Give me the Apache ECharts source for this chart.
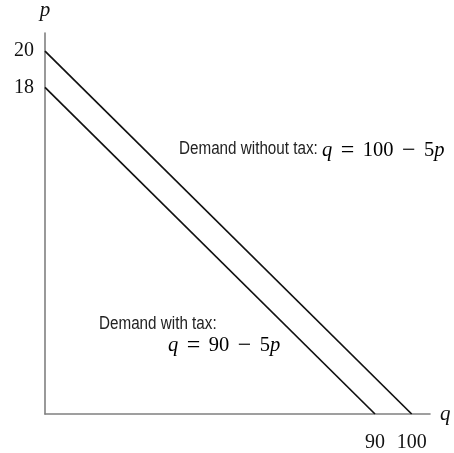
<!DOCTYPE html>
<html>
<head>
<meta charset="utf-8">
<script src="https://cdn.jsdelivr.net/npm/echarts@6/dist/echarts.min.js"></script>
<style>html,body{margin:0;padding:0;background:#fff;}#c{width:454px;height:453px;}</style>
</head>
<body>
<div id="c"></div>
<script>
// Data
const qWithoutTax = [0, 100];
const pWithoutTax = [20, 0];
const qWithTax = [0, 90];
const pWithTax = [18, 0];
const xTickLabels = [90, 100];
const yTickLabels = [18, 20];
const labelWithout = 'Demand without tax:';
const labelWith = 'Demand with tax:';

const serif = '"Liberation Serif", "Times New Roman", serif';
const sans = '"Liberation Sans", Arial, sans-serif';

const chart = echarts.init(document.getElementById('c'), null, {renderer: 'canvas'});
const toPairs = (xs, ys) => xs.map((x, i) => [x, ys[i]]);

const mathRich = {
  i: {fontFamily: serif, fontSize: 20.5, fontStyle: 'italic', color: '#111'},
  n: {fontFamily: serif, fontSize: 20.5, color: '#111'},
  o: {fontFamily: serif, fontSize: 24, color: '#111', padding: [0, 8.5, 0, 8.5]}
};
const sansStyle = (text) => ({text: text, fontFamily: sans, fontSize: 17.5, fill: '#222', verticalAlign: 'middle', align: 'left'});
const mathStyle = (text) => ({text: text, rich: mathRich, verticalAlign: 'middle', align: 'left'});
const eq = (a, b) => '{i|q}{o|=}{n|' + a + '}{o|−}{n|' + b + '}{i|p}';

chart.setOption({
  animation: false,
  grid: {left: 45, right: 24, top: 33, bottom: 35.4, containLabel: false},
  xAxis: {
    type: 'value', min: 0, max: 105,
    name: 'q', nameLocation: 'end', nameGap: 10,
    nameTextStyle: {fontFamily: serif, fontStyle: 'italic', fontSize: 21, color: '#111', verticalAlign: 'middle'},
    axisLine: {show: true, lineStyle: {color: '#808080', width: 1.6}},
    axisTick: {show: false},
    splitLine: {show: false},
    axisLabel: {show: true, customValues: xTickLabels, fontFamily: serif, fontSize: 20, color: '#111', margin: 19}
  },
  yAxis: {
    type: 'value', min: 0, max: 21,
    name: 'p', nameLocation: 'end', nameGap: 12,
    nameTextStyle: {fontFamily: serif, fontStyle: 'italic', fontSize: 21, color: '#111', align: 'center'},
    axisLine: {show: true, lineStyle: {color: '#808080', width: 1.6}},
    axisTick: {show: false},
    splitLine: {show: false},
    axisLabel: {show: true, customValues: yTickLabels, fontFamily: serif, fontSize: 20, color: '#111', margin: 11}
  },
  series: [
    {type: 'line', data: toPairs(qWithoutTax, pWithoutTax), symbol: 'none', lineStyle: {color: '#111', width: 1.7}},
    {type: 'line', data: toPairs(qWithTax, pWithTax), symbol: 'none', lineStyle: {color: '#111', width: 1.7}}
  ],
  graphic: [
    {type: 'text', x: 179, y: 148.7, scaleX: 0.87, style: sansStyle(labelWithout)},
    {type: 'text', x: 322, y: 150.3, style: mathStyle(eq('100', '5'))},
    {type: 'text', x: 99, y: 324.5, scaleX: 0.87, style: sansStyle(labelWith)},
    {type: 'text', x: 168, y: 345.3, style: mathStyle(eq('90', '5'))}
  ]
});
</script>
</body>
</html>
